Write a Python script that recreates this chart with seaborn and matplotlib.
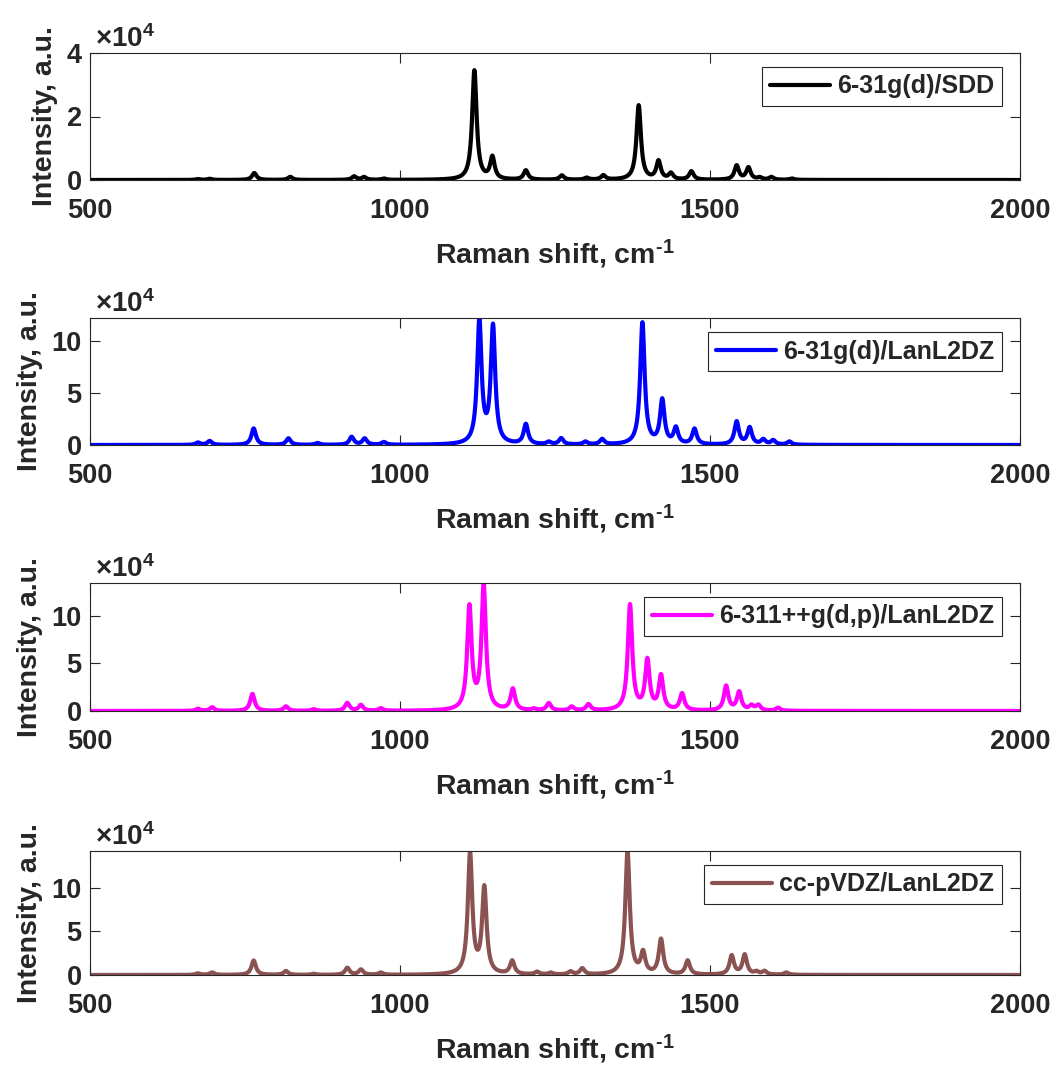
import numpy as np
import pandas as pd
import matplotlib
matplotlib.use("Agg")
import matplotlib.pyplot as plt
import seaborn as sns
from matplotlib.ticker import FuncFormatter

# ---------------- data (peak positions in cm^-1, peak heights in a.u.) ----------------
labels = ["6-31g(d)/SDD", "6-31g(d)/LanL2DZ", "6-311++g(d,p)/LanL2DZ", "cc-pVDZ/LanL2DZ"]
colors = ["#000000", "#0000FF", "#FF00FF", "#8B5252"]

sdd_pos = [674, 693, 765, 823, 926, 942, 974, 1120, 1149, 1203, 1261, 1301, 1328,
           1385, 1417, 1437, 1470, 1543, 1562, 1580, 1599, 1632]
sdd_hgt = [300, 400, 2200, 1000, 1200, 1000, 500, 34600, 7700, 3100, 1500, 800, 1600,
           23600, 6300, 2400, 2800, 4700, 4100, 1000, 1000, 500]

lan_pos = [674, 693, 764, 820, 867, 922, 943, 974, 1128, 1150, 1203, 1240, 1260, 1299, 1326,
           1391, 1423, 1445, 1475, 1543, 1564, 1586, 1602, 1628]
lan_hgt = [2500, 4000, 16000, 6500, 2000, 8000, 6500, 3000, 122000, 116700, 20500, 3500, 6700,
           3500, 6000, 118000, 45000, 18000, 16000, 23000, 17500, 6000, 5000, 3500]

p311_pos = [674, 697, 762, 816, 861, 915, 937, 969, 1112, 1135, 1182, 1216, 1240, 1277, 1304,
            1371, 1399, 1421, 1455, 1526, 1547, 1567, 1578, 1610]
p311_hgt = [2500, 4000, 18000, 5000, 2000, 8700, 6600, 3000, 112600, 134700, 24000, 3000, 8500,
            5000, 7500, 112600, 56000, 39000, 19000, 27000, 21000, 7000, 7000, 3500]

ccp_pos = [674, 697, 764, 816, 861, 915, 937, 969, 1113, 1136, 1181, 1221, 1243, 1275, 1294,
           1367, 1392, 1421, 1464, 1535, 1556, 1575, 1588, 1623]
ccp_hgt = [2000, 3000, 16700, 4700, 1500, 8500, 6600, 3000, 142000, 103400, 17000, 4000, 3000,
           4500, 8000, 142500, 29000, 42000, 17000, 23000, 24000, 5000, 5000, 3000]

peak_sets = [(sdd_pos, sdd_hgt), (lan_pos, lan_hgt), (p311_pos, p311_hgt), (ccp_pos, ccp_hgt)]
ytick_sets = [[0, 20000, 40000], [0, 50000, 100000], [0, 50000, 100000], [0, 50000, 100000]]

HWHM = 4.3  # Lorentzian half width used for the spectrum broadening


def spectrum(pos, hgt, x):
    pos = np.asarray(pos, float)
    hgt = np.asarray(hgt, float)
    A = 1.0 / (1.0 + ((pos[:, None] - pos[None, :]) / HWHM) ** 2)
    amp = np.linalg.solve(A, hgt)
    return (amp[None, :] / (1.0 + ((x[:, None] - pos[None, :]) / HWHM) ** 2)).sum(axis=1)


x = np.linspace(500, 2000, 3001)

sns.set_theme(style="ticks")
plt.rcParams["font.family"] = ["Liberation Sans", "DejaVu Sans"]
plt.rcParams["font.weight"] = "bold"
plt.rcParams["axes.labelweight"] = "bold"
plt.rcParams["mathtext.fontset"] = "custom"
plt.rcParams["mathtext.rm"] = "Liberation Sans"
plt.rcParams["mathtext.bf"] = "Liberation Sans:bold"
plt.rcParams["mathtext.it"] = "Liberation Sans:italic"

fig = plt.figure(figsize=(10.59, 10.70), dpi=100)
W, H = 1059.0, 1070.0
boxes = [(53, 180), (318, 445), (583, 711), (851, 975)]
left_px, right_px = 90, 1020
edge = "#262626"

for i, ((pos, hgt), (top, bot)) in enumerate(zip(peak_sets, boxes)):
    ax = fig.add_axes([left_px / W, 1 - bot / H, (right_px - left_px) / W, (bot - top) / H])
    y = spectrum(pos, hgt, x)
    df = pd.DataFrame({"shift": x, "intensity": y})
    sns.lineplot(data=df, x="shift", y="intensity", ax=ax, color=colors[i], lw=3.0,
                 label=labels[i], estimator=None, sort=False)
    ax.set_xlim(500, 2000)
    ymax = 40000 if i == 0 else y.max()
    ax.set_ylim(0, ymax)
    ax.set_xticks([500, 1000, 1500, 2000])
    ax.set_yticks(ytick_sets[i])
    ax.yaxis.set_major_formatter(FuncFormatter(lambda v, p: f"{v / 1e4:g}"))
    ax.tick_params(direction="in", length=7, width=0.8, colors=edge, labelcolor=edge,
                   labelsize=19.5, top=True, right=True)
    ax.tick_params(axis="x", pad=13)
    ax.tick_params(axis="y", pad=6)
    for lab in ax.get_xticklabels() + ax.get_yticklabels():
        lab.set_fontweight("bold")
    for s in ax.spines.values():
        s.set_color(edge)
        s.set_linewidth(0.8)
    ax.set_xlabel(r"Raman shift, cm$^{\mathbf{\text{-}1}}$", fontsize=20.5, fontweight="bold",
                  color=edge, labelpad=10)
    ax.set_ylabel("Intensity, a.u.", fontsize=20.5, fontweight="bold", color=edge, labelpad=6)
    ax.text(5 / 930, 1 + 0 / (bot - top), r"$\times\mathbf{10^{4}}$", transform=ax.transAxes,
            ha="left", va="bottom", fontsize=20, color=edge)
    leg = ax.legend(loc="upper right", bbox_to_anchor=(1 - 18 / 930, 1 - 14 / (bot - top)),
                    borderaxespad=0, fancybox=False, framealpha=1, edgecolor=edge,
                    prop={"family": "Liberation Sans", "weight": "bold", "size": 18},
                    handlelength=2.4, handletextpad=0.3, borderpad=0.3)
    leg.get_frame().set_linewidth(0.8)

fig.savefig("out.png", dpi=100)
